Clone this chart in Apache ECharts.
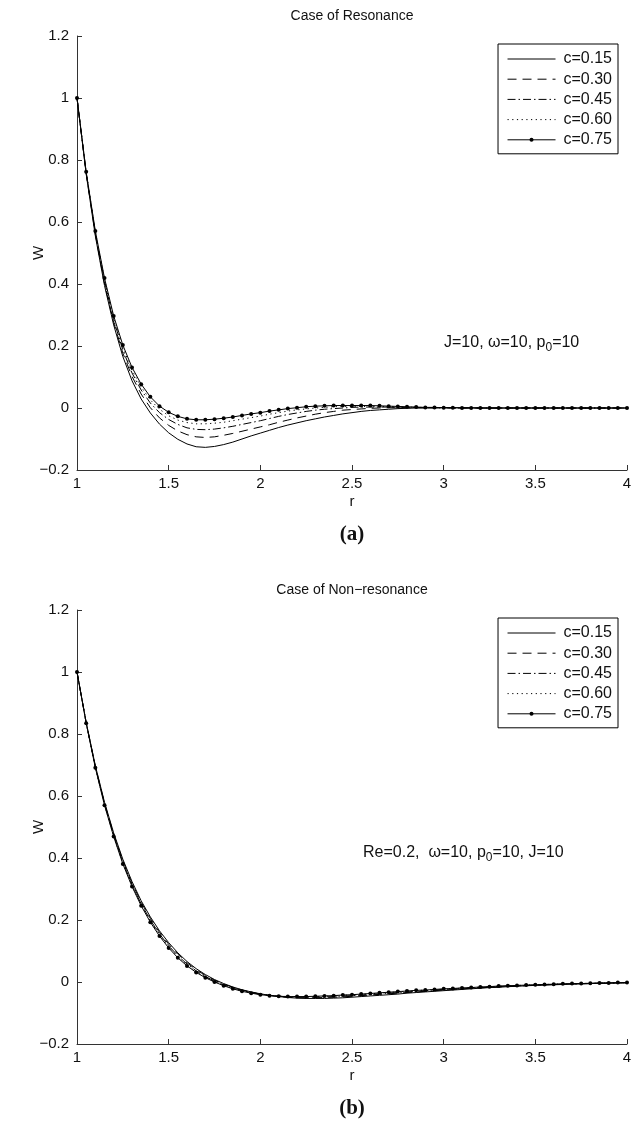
<!DOCTYPE html>
<html>
<head>
<meta charset="utf-8">
<script src="https://cdn.jsdelivr.net/npm/echarts@6/dist/echarts.min.js"></script>
<style>
  html, body { margin: 0; padding: 0; background: #fff; }
  #chart { width: 640px; height: 1121px; }
</style>
</head>
<body>
<div id="chart"></div>
<script>
// radial positions r (sampled every 0.05)
const rGrid = [1.00,1.05,1.10,1.15,1.20,1.25,1.30,1.35,1.40,1.45,1.50,1.55,1.60,1.65,1.70,1.75,1.80,1.85,1.90,1.95,
  2.00,2.05,2.10,2.15,2.20,2.25,2.30,2.35,2.40,2.45,2.50,2.55,2.60,2.65,2.70,2.75,2.80,2.85,2.90,2.95,
  3.00,3.05,3.10,3.15,3.20,3.25,3.30,3.35,3.40,3.45,3.50,3.55,3.60,3.65,3.70,3.75,3.80,3.85,3.90,3.95,4.00];

const seriesNames = ['c=0.15', 'c=0.30', 'c=0.45', 'c=0.60', 'c=0.75'];
const xTicks = [1, 1.5, 2, 2.5, 3, 3.5, 4];
const yTicks = [-0.2, 0, 0.2, 0.4, 0.6, 0.8, 1, 1.2];

// (a) resonance case: W(r)
const resC015 = [1.000,0.755,0.555,0.395,0.268,0.166,0.088,0.029,-0.016,-0.052,
  -0.080,-0.101,-0.116,-0.125,-0.127,-0.124,-0.118,-0.110,-0.100,-0.090,
  -0.081,-0.072,-0.063,-0.055,-0.048,-0.041,-0.035,-0.029,-0.024,-0.019,
  -0.015,-0.011,-0.008,-0.006,-0.004,-0.002,-0.001,0.000,0.000,0.000,
  0.001,0.001,0.001,0.001,0.000,0.000,0.000,0.000,0.000,0.000,
  0.000,0.000,0.000,0.000,0.000,0.000,0.000,0.000,0.000,0.000,0.000];
const resC030 = [1.000,0.757,0.560,0.401,0.276,0.177,0.102,0.045,0.001,-0.032,
  -0.056,-0.074,-0.086,-0.093,-0.095,-0.093,-0.088,-0.082,-0.075,-0.068,
  -0.061,-0.054,-0.046,-0.039,-0.032,-0.026,-0.020,-0.015,-0.011,-0.007,
  -0.005,-0.003,-0.001,0.000,0.001,0.001,0.001,0.001,0.001,0.001,
  0.001,0.000,0.000,0.000,0.000,0.000,0.000,0.000,0.000,0.000,
  0.000,0.000,0.000,0.000,0.000,0.000,0.000,0.000,0.000,0.000,0.000];
const resC045 = [1.000,0.759,0.564,0.408,0.284,0.187,0.113,0.058,0.016,-0.015,
  -0.037,-0.053,-0.064,-0.069,-0.070,-0.068,-0.064,-0.059,-0.053,-0.047,
  -0.041,-0.034,-0.027,-0.021,-0.016,-0.011,-0.007,-0.004,-0.002,0.000,
  0.002,0.003,0.003,0.003,0.003,0.003,0.002,0.002,0.001,0.001,
  0.001,0.000,0.000,0.000,0.000,0.000,0.000,0.000,0.000,0.000,
  0.000,0.000,0.000,0.000,0.000,0.000,0.000,0.000,0.000,0.000,0.000];
const resC060 = [1.000,0.761,0.568,0.414,0.291,0.195,0.122,0.068,0.026,-0.004,
  -0.025,-0.039,-0.047,-0.051,-0.051,-0.049,-0.046,-0.041,-0.036,-0.031,
  -0.026,-0.020,-0.015,-0.010,-0.006,-0.003,0.000,0.002,0.004,0.005,
  0.005,0.005,0.005,0.005,0.004,0.004,0.003,0.002,0.002,0.001,
  0.001,0.000,0.000,0.000,0.000,0.000,0.000,0.000,0.000,0.000,
  0.000,0.000,0.000,0.000,0.000,0.000,0.000,0.000,0.000,0.000,0.000];
const resC075 = [1.000,0.762,0.571,0.419,0.297,0.203,0.131,0.077,0.036,0.006,
  -0.014,-0.027,-0.035,-0.038,-0.038,-0.036,-0.033,-0.029,-0.024,-0.019,
  -0.015,-0.010,-0.006,-0.002,0.001,0.004,0.006,0.007,0.008,0.008,
  0.008,0.008,0.008,0.007,0.006,0.005,0.004,0.003,0.002,0.002,
  0.001,0.001,0.000,0.000,0.000,0.000,0.000,0.000,0.000,0.000,
  0.000,0.000,0.000,0.000,0.000,0.000,0.000,0.000,0.000,0.000,0.000];

// (b) non-resonance case: W(r)
const nonC015 = [1.000,0.838,0.698,0.580,0.481,0.396,0.324,0.262,0.210,0.165,
  0.127,0.094,0.066,0.043,0.024,0.008,-0.005,-0.016,-0.025,-0.032,
  -0.038,-0.043,-0.047,-0.050,-0.052,-0.053,-0.053,-0.053,-0.052,-0.051,
  -0.049,-0.047,-0.045,-0.043,-0.041,-0.039,-0.036,-0.034,-0.032,-0.030,
  -0.028,-0.026,-0.024,-0.022,-0.020,-0.018,-0.017,-0.015,-0.014,-0.012,
  -0.011,-0.010,-0.009,-0.008,-0.007,-0.006,-0.005,-0.004,-0.004,-0.003,-0.003];
const nonC030 = [1.000,0.837,0.696,0.577,0.477,0.391,0.318,0.257,0.205,0.160,
  0.122,0.090,0.062,0.040,0.021,0.006,-0.007,-0.017,-0.026,-0.033,
  -0.039,-0.043,-0.047,-0.049,-0.051,-0.051,-0.051,-0.050,-0.049,-0.048,
  -0.046,-0.044,-0.042,-0.040,-0.038,-0.036,-0.034,-0.032,-0.030,-0.028,
  -0.026,-0.024,-0.022,-0.020,-0.019,-0.017,-0.016,-0.014,-0.013,-0.012,
  -0.010,-0.009,-0.008,-0.007,-0.006,-0.006,-0.005,-0.004,-0.004,-0.003,-0.003];
const nonC045 = [1.000,0.836,0.694,0.575,0.474,0.387,0.314,0.252,0.200,0.155,
  0.117,0.085,0.058,0.036,0.018,0.003,-0.009,-0.019,-0.027,-0.034,
  -0.039,-0.043,-0.046,-0.048,-0.049,-0.049,-0.049,-0.048,-0.047,-0.045,
  -0.044,-0.042,-0.040,-0.038,-0.036,-0.034,-0.032,-0.030,-0.028,-0.026,
  -0.024,-0.023,-0.021,-0.019,-0.018,-0.016,-0.015,-0.013,-0.012,-0.011,
  -0.010,-0.009,-0.008,-0.007,-0.006,-0.005,-0.005,-0.004,-0.003,-0.003,-0.002];
const nonC060 = [1.000,0.835,0.692,0.572,0.471,0.384,0.311,0.249,0.196,0.151,
  0.113,0.081,0.055,0.033,0.016,0.001,-0.011,-0.021,-0.029,-0.035,
  -0.040,-0.043,-0.045,-0.047,-0.047,-0.047,-0.047,-0.046,-0.045,-0.043,
  -0.042,-0.040,-0.038,-0.036,-0.034,-0.032,-0.030,-0.028,-0.026,-0.025,
  -0.023,-0.021,-0.020,-0.018,-0.017,-0.015,-0.014,-0.013,-0.011,-0.010,
  -0.009,-0.008,-0.007,-0.006,-0.006,-0.005,-0.004,-0.004,-0.003,-0.003,-0.002];
const nonC075 = [1.000,0.835,0.691,0.570,0.469,0.381,0.308,0.246,0.193,0.148,
  0.110,0.078,0.052,0.031,0.014,0.000,-0.012,-0.022,-0.030,-0.036,
  -0.041,-0.044,-0.046,-0.047,-0.047,-0.047,-0.046,-0.045,-0.044,-0.042,
  -0.041,-0.039,-0.037,-0.035,-0.033,-0.031,-0.029,-0.027,-0.026,-0.024,
  -0.022,-0.021,-0.019,-0.018,-0.016,-0.015,-0.013,-0.012,-0.011,-0.010,
  -0.009,-0.008,-0.007,-0.006,-0.005,-0.005,-0.004,-0.003,-0.003,-0.002,-0.002];

const panelTitles = ['Case of Resonance', 'Case of Non\u2212resonance'];
const panelTags = ['(a)', '(b)'];

// ---- layout ----
const FONT = '"Liberation Sans", Arial, Helvetica, sans-serif';
const SERIF = '"Liberation Serif", "Times New Roman", serif';
const gridLeft = 77, gridRight = 13, gridH = 434;
const gridTops = [36, 610];
const plotW = 640 - gridLeft - gridRight;
const axisColor = '#333';

// line look per series: solid, dashed, dash-dot, dotted, solid with dots
const lineLooks = [
  { type: 'solid', symbol: 'none' },
  { type: [9, 6], symbol: 'none' },
  { type: [8, 3, 1.5, 3], symbol: 'none' },
  { type: [1.2, 3.5], symbol: 'none' },
  { type: 'solid', symbol: 'circle' }
];

function fmtTick(v) {
  const s = String(Math.round(v * 100) / 100);
  return s.replace('-', '\u2212');
}

function makeAxes(i) {
  const x = {
    gridIndex: i, type: 'value', min: xTicks[0], max: xTicks[xTicks.length - 1], interval: 0.5,
    axisLine: { show: true, onZero: false, lineStyle: { color: axisColor, width: 1 } },
    axisTick: { show: true, inside: true, length: 5, lineStyle: { color: axisColor } },
    axisLabel: { margin: 6, fontSize: 15, fontFamily: FONT, color: '#111', formatter: fmtTick },
    splitLine: { show: false },
    name: 'r', nameLocation: 'middle', nameGap: 24, nameMoveOverlap: false,
    nameTextStyle: { fontSize: 15, fontFamily: FONT, color: '#111' }
  };
  const y = {
    gridIndex: i, type: 'value', min: yTicks[0], max: yTicks[yTicks.length - 1], interval: 0.2,
    axisLine: { show: true, onZero: false, lineStyle: { color: axisColor, width: 1 } },
    axisTick: { show: true, inside: true, length: 5, lineStyle: { color: axisColor } },
    axisLabel: { margin: 8, fontSize: 15, fontFamily: FONT, color: '#111', formatter: fmtTick },
    splitLine: { show: false },
    name: 'W', nameLocation: 'middle', nameGap: 31, nameMoveOverlap: false,
    nameTextStyle: { fontSize: 15, fontFamily: FONT, color: '#111' }
  };
  return { x, y };
}

function makeSeries(i, sets) {
  return sets.map((vals, k) => ({
    type: 'line', name: seriesNames[k], xAxisIndex: i, yAxisIndex: i,
    data: rGrid.map((r, j) => [r, vals[j]]),
    symbol: lineLooks[k].symbol, symbolSize: 4, showSymbol: lineLooks[k].symbol !== 'none',
    showAllSymbol: true,
    itemStyle: { color: '#000' },
    lineStyle: { color: '#000', width: 1, type: lineLooks[k].type },
    emphasis: { disabled: true },
    animation: false,
    z: 2 + k
  }));
}

function makeLegend(i) {
  return {
    orient: 'vertical', right: 22, top: gridTops[i] + 8,
    // only the dotted-line series keeps its marker in the key
    data: seriesNames.map((n, k) => lineLooks[k].symbol === 'none'
      ? { name: n, itemStyle: { color: 'rgba(0,0,0,0)', borderWidth: 0 } }
      : { name: n, itemStyle: { color: '#000' } }),
    selectedMode: false,
    backgroundColor: '#fff', borderColor: '#000', borderWidth: 1, borderRadius: 0,
    padding: [7, 6, 6, 9], itemWidth: 48, itemHeight: 5, itemGap: 4.2,
    lineStyle: { width: 1 },
    textStyle: { fontSize: 16, fontFamily: FONT, color: '#111', lineHeight: 16, padding: [0, 0, 0, 3] },
    z: 10
  };
}

// text with a subscript part, built from measured pieces
const measureCtx = document.createElement('canvas').getContext('2d');
function subscriptText(x, y, parts, size) {
  const children = [];
  let cx = x;
  parts.forEach(p => {
    const fs = p.sub ? Math.round(size * 0.72) : size;
    const font = fs + 'px ' + FONT;
    measureCtx.font = font;
    const w = measureCtx.measureText(p.t).width;
    children.push({
      type: 'text', x: cx, y: p.sub ? y + 5 : y,
      style: { text: p.t, font: font, fill: '#111', textAlign: 'left', textVerticalAlign: 'middle', align: 'left', verticalAlign: 'middle' }
    });
    cx += w;
  });
  return children;
}

function centerText(text, x, y, font) {
  return {
    type: 'text', x: x, y: y,
    style: { text: text, font: font, fill: '#111', textAlign: 'center', textVerticalAlign: 'middle', align: 'center', verticalAlign: 'middle' }
  };
}

const axesA = makeAxes(0), axesB = makeAxes(1);
const midX = gridLeft + plotW / 2;

const graphics = [
  centerText(panelTitles[0], midX, 16, '14px ' + FONT),
  centerText(panelTitles[1], midX, gridTops[1] - 20, '14px ' + FONT),
  centerText(panelTags[0], midX, gridTops[0] + gridH + 65, 'bold 21px ' + SERIF),
  centerText(panelTags[1], midX, gridTops[1] + gridH + 65, 'bold 21px ' + SERIF)
].concat(
  subscriptText(444, 343, [{ t: 'J=10, \u03c9=10, p' }, { t: '0', sub: true }, { t: '=10' }], 16),
  subscriptText(363, 853, [{ t: 'Re=0.2,  \u03c9=10, p' }, { t: '0', sub: true }, { t: '=10, J=10' }], 16)
);

const option = {
  backgroundColor: '#fff',
  animation: false,
  grid: gridTops.map(t => ({ left: gridLeft, right: gridRight, top: t, height: gridH, containLabel: false })),
  xAxis: [axesA.x, axesB.x],
  yAxis: [axesA.y, axesB.y],
  legend: [makeLegend(0), makeLegend(1)],
  series: makeSeries(0, [resC015, resC030, resC045, resC060, resC075])
    .concat(makeSeries(1, [nonC015, nonC030, nonC045, nonC060, nonC075])),
  graphic: graphics
};

const chart = echarts.init(document.getElementById('chart'), null, { renderer: 'canvas' });
chart.setOption(option);
</script>
</body>
</html>
